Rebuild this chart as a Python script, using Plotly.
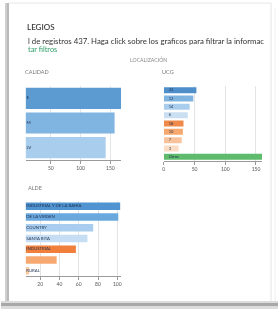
import plotly.graph_objects as go

W, H = 279, 309

# ---- data ----
calidad_cats = ["E", "M", "LV"]
calidad_vals = [168, 157, 142]
calidad_colors = ["#5b9bd2", "#80b4e1", "#a9cdec"]

ucg_cats = ["23", "12", "14", "6", "18", "10", "7", "3", "Otros"]
ucg_vals = [53, 48, 42, 39, 32, 31, 29, 24, 160]
ucg_colors = ["#4e8fcb", "#80b4e0", "#a9cdec", "#cadff2",
              "#f08a4b", "#f6a86e", "#f8c39c", "#fbdcc4", "#5dbb6b"]

alde_cats = ["INDUSTRIAL Y DE LA BAHIA", "DE LA VIRGEN", "COUNTRY",
             "SANTA RITA", "INDUSTRIAL", "", "RURAL"]
alde_vals = [103, 101, 75, 69, 57, 37, 8.5]
alde_colors = ["#4f94d0", "#6aa8de", "#a8cdee", "#c6def3",
               "#f07f3c", "#f6a870", "#f9c9a4"]

calidad_ticks = [50, 100, 150]
ucg_ticks = [0, 50, 100, 150]
alde_ticks = [20, 40, 60, 80, 100]


def px(x):
    return x / W


def py(y):
    return 1 - y / H


FONT = "Lato"
fig = go.Figure()

# bars
fig.add_trace(go.Bar(x=calidad_vals, y=calidad_cats, orientation="h",
                     marker=dict(color=calidad_colors, line=dict(width=0)),
                     xaxis="x", yaxis="y", hoverinfo="skip"))
fig.add_trace(go.Scatter(x=[9] * len(calidad_cats), y=calidad_cats, text=calidad_cats,
                         mode="text", textposition="middle right",
                         textfont=dict(size=4.5, color="#1f3050", family=FONT),
                         xaxis="x", yaxis="y", cliponaxis=False, hoverinfo="skip"))

fig.add_trace(go.Bar(x=ucg_vals, y=ucg_cats, orientation="h",
                     marker=dict(color=ucg_colors, line=dict(width=0)),
                     xaxis="x2", yaxis="y2", hoverinfo="skip", width=0.72))
fig.add_trace(go.Scatter(x=[8] * len(ucg_cats), y=ucg_cats, text=ucg_cats,
                         mode="text", textposition="middle right",
                         textfont=dict(size=4, color="#1f3050", family=FONT),
                         xaxis="x2", yaxis="y2", cliponaxis=False, hoverinfo="skip"))

alde_ids = list(range(len(alde_cats)))
fig.add_trace(go.Bar(x=alde_vals, y=alde_ids, orientation="h",
                     marker=dict(color=alde_colors, line=dict(width=0)),
                     xaxis="x3", yaxis="y3", hoverinfo="skip", width=0.7))
fig.add_trace(go.Scatter(x=[5.5] * len(alde_cats), y=alde_ids, text=alde_cats,
                         mode="text", textposition="middle right",
                         textfont=dict(size=4.3, color="#1f3050", family=FONT),
                         xaxis="x3", yaxis="y3", cliponaxis=False, hoverinfo="skip"))

xcommon = dict(showgrid=True, gridcolor="#e4e4e4", gridwidth=1, zeroline=False,
               showline=True, linecolor="#9a9a9a", linewidth=1,
               ticks="outside", ticklen=3, tickcolor="#9a9a9a",
               tickfont=dict(size=5, color="#555", family=FONT), fixedrange=True)
ycommon = dict(showgrid=False, zeroline=False, showline=False, showticklabels=False,
               ticks="", autorange="reversed", fixedrange=True)

fig.update_layout(
    width=W, height=H, margin=dict(l=0, r=0, t=0, b=0),
    paper_bgcolor="white", plot_bgcolor="white", showlegend=False,
    bargap=0.14,
    xaxis=dict(xcommon, domain=[px(25), px(121)], range=[8, 168],
               tickvals=calidad_ticks, anchor="y"),
    yaxis=dict(ycommon, domain=[py(160), py(86)], anchor="x"),
    xaxis2=dict(xcommon, domain=[px(164), px(263)], range=[0, 160],
                tickvals=ucg_ticks, anchor="y2"),
    yaxis2=dict(ycommon, domain=[py(161), py(86)], anchor="x2"),
    xaxis3=dict(xcommon, domain=[px(25), px(121)], range=[5, 104],
                tickvals=alde_ticks, anchor="y3"),
    yaxis3=dict(ycommon, domain=[py(276), py(201)], anchor="x3"),
)

# card frame
shapes = [
    dict(type="rect", xref="paper", yref="paper", x0=px(4), x1=px(8), y0=0, y1=py(3),
         fillcolor="#d0d0d0", line=dict(width=0), layer="below"),
    dict(type="rect", xref="paper", yref="paper", x0=px(6), x1=px(8), y0=0, y1=py(3),
         fillcolor="#b8b8b8", line=dict(width=0), layer="below"),
    dict(type="line", xref="paper", yref="paper", x0=px(8), x1=px(272), y0=py(3), y1=py(3),
         line=dict(color="#e6e6e6", width=1)),
    dict(type="line", xref="paper", yref="paper", x0=px(272), x1=px(272), y0=py(301), y1=py(3),
         line=dict(color="#e4e4e4", width=1)),
    dict(type="line", xref="paper", yref="paper", x0=px(276), x1=px(276), y0=py(301), y1=py(8),
         line=dict(color="#eeeeee", width=1)),
    dict(type="rect", xref="paper", yref="paper", x0=0, x1=1, y0=0, y1=py(301),
         fillcolor="#dcdcdc", line=dict(width=0), layer="below"),
    dict(type="rect", xref="paper", yref="paper", x0=0, x1=1, y0=py(306), y1=py(303),
         fillcolor="#a8a8a8", line=dict(width=0), layer="below"),
]
fig.update_layout(shapes=shapes)

ann = [
    dict(text="LEGIOS", x=px(24), y=py(27),
         font=dict(size=8, color="#3a3a3a", family=FONT, weight=600)),
    dict(text="l de registros 437. Haga click sobre los graficos para filtrar la informac",
         x=px(25), y=py(41), font=dict(size=7.8, color="#333", family=FONT)),
    dict(text="tar filtros", x=px(25), y=py(49), font=dict(size=7.4, color="#2f9e6a", family=FONT)),
    dict(text="LOCALIZACIÓN", x=px(149), y=py(59), xanchor="center",
         font=dict(size=5.2, color="#888", family=FONT)),
    dict(text="CALIDAD", x=px(22), y=py(72), font=dict(size=5.5, color="#777", family=FONT)),
    dict(text="UCG", x=px(160), y=py(72), font=dict(size=5.5, color="#777", family=FONT)),
    dict(text="ALDE", x=px(25), y=py(188), font=dict(size=5.5, color="#777", family=FONT)),
]
for a in ann:
    a.setdefault("xanchor", "left")
    a.update(xref="paper", yref="paper", yanchor="middle", showarrow=False)
fig.update_layout(annotations=ann)

fig.write_html("out.html", config={"displayModeBar": False},
               post_script="document.body.style.margin='0';document.body.style.overflow='hidden';"
                           "document.body.style.filter='blur(0.4px)';")
